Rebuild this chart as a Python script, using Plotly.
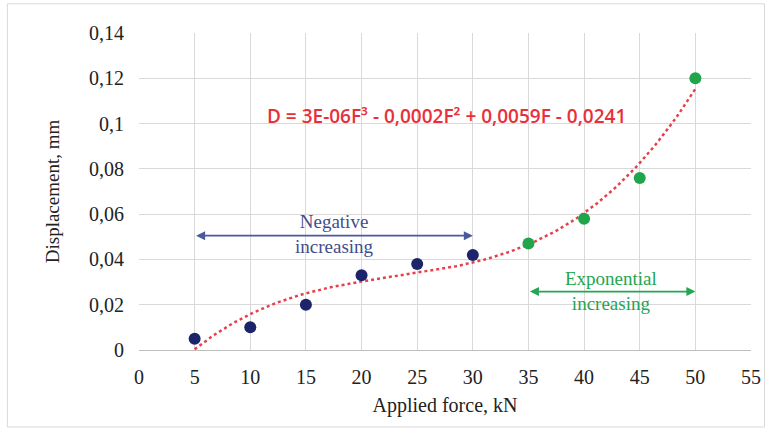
import numpy as np
import plotly.graph_objects as go

force_neg = [5, 10, 15, 20, 25, 30]
disp_neg = [0.005, 0.010, 0.020, 0.033, 0.038, 0.042]
force_exp = [35, 40, 45, 50]
disp_exp = [0.047, 0.058, 0.076, 0.120]
x_ticks = [0, 5, 10, 15, 20, 25, 30, 35, 40, 45, 50, 55]
y_ticks = [0, 0.02, 0.04, 0.06, 0.08, 0.1, 0.12, 0.14]
equation = "D = 3E-06F³ - 0,0002F² + 0,0059F - 0,0241"

# cubic trendline fitted to the data (as Excel does)
all_f = np.array(force_neg + force_exp, dtype=float)
all_d = np.array(disp_neg + disp_exp, dtype=float)
coef = np.polyfit(all_f, all_d, 3)
fx = np.linspace(all_f.min(), all_f.max(), 200)
fy = np.polyval(coef, fx)

fig = go.Figure()
fig.add_trace(go.Scatter(x=fx, y=fy, mode="lines",
                         line=dict(color="#E8404A", width=2.5, dash="dot"),
                         showlegend=False, hoverinfo="skip"))
fig.add_trace(go.Scatter(x=force_neg, y=disp_neg, mode="markers",
                         marker=dict(color="#1C2569", size=12), showlegend=False))
fig.add_trace(go.Scatter(x=force_exp, y=disp_exp, mode="markers",
                         marker=dict(color="#1FA54A", size=12), showlegend=False))

serif = "Liberation Serif, Times New Roman, serif"
annotations = [
    dict(x=30, y=0.0505, ax=5, ay=0.0505, xref="x", yref="y", axref="x", ayref="y",
         text="", showarrow=True, arrowhead=2, arrowside="end+start", arrowsize=1,
         arrowwidth=1.8, arrowcolor="#4A5A9C"),
    dict(x=17.6, y=0.0513, xref="x", yref="y", showarrow=False,
         text="Negative<br>increasing", font=dict(family=serif, size=19, color="#3F4D8C")),
    dict(x=50, y=0.0258, ax=35, ay=0.0258, xref="x", yref="y", axref="x", ayref="y",
         text="", showarrow=True, arrowhead=2, arrowside="end+start", arrowsize=1,
         arrowwidth=1.8, arrowcolor="#22A652"),
    dict(x=42.4, y=0.0262, xref="x", yref="y", showarrow=False,
         text="Exponential<br>increasing", font=dict(family=serif, size=19, color="#22A652")),
    dict(x=27.6, y=0.1035, xref="x", yref="y", showarrow=False,
         text=equation, font=dict(family="Open Sans", size=19, weight=600, color="#E8303A")),
]

fig.update_layout(
    width=773, height=431,
    margin=dict(l=139, r=17, t=33, b=81),
    paper_bgcolor="white", plot_bgcolor="white",
    separators=",.",
    annotations=annotations,
    shapes=[dict(type="rect", xref="paper", yref="paper",
                 x0=-0.215, x1=1.022, y0=-0.243, y1=1.092,
                 line=dict(color="#D9D9D9", width=1), layer="below")],
    xaxis=dict(range=[0, 55], tickvals=x_ticks, showgrid=True, gridcolor="#D9D9D9",
               zeroline=False, showline=True, linecolor="#BFBFBF",
               ticks="", ticklabelstandoff=9,
               tickfont=dict(family=serif, size=20, color="#222"),
               title=dict(text="Applied force, kN", font=dict(family=serif, size=20, color="#222"),
                          standoff=10)),
    yaxis=dict(range=[0, 0.14], tickvals=y_ticks, showgrid=True, gridcolor="#D9D9D9",
               zeroline=False, showline=False, ticks="", ticklen=0, ticklabelstandoff=14,
               tickfont=dict(family=serif, size=20, color="#222"),
               title=dict(text="Displacement, mm", font=dict(family=serif, size=19, color="#222"),
                          standoff=24)),
)
fig.write_html("out.html")
